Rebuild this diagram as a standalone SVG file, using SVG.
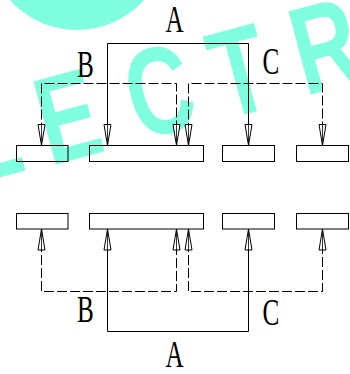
<svg xmlns="http://www.w3.org/2000/svg" width="350" height="374" viewBox="0 0 350 374">
<style>
.wm{font-family:"Liberation Sans",Arial,sans-serif;font-size:125px;font-weight:bold;fill:#80FFE0}
.box{fill:none;stroke:#000;stroke-width:1}
.solid{fill:none;stroke:#000;stroke-width:1}
.dash{fill:none;stroke:#000;stroke-width:1;stroke-dasharray:10 3}
.lbl{font-family:"Liberation Serif","Times New Roman",serif;font-size:37px;fill:#000;text-anchor:middle}
.ah{fill:url(#g);stroke:#000;stroke-width:1}
</style>
<defs>
<linearGradient id="g" x1="0" y1="0" x2="1" y2="0">
<stop offset="0" stop-color="#fff"/>
<stop offset="0.4" stop-color="#fff"/>
<stop offset="0.5" stop-color="#333"/>
<stop offset="0.6" stop-color="#fff"/>
<stop offset="1" stop-color="#fff"/>
</linearGradient>
<polygon id="ahd" points="-3.5,-21 3.5,-21 0,0"/>
</defs>
<g id="watermark">
<circle cx="77" cy="-60" r="90" fill="#80FFE0"/>
<text class="wm" transform="translate(-25,184) rotate(-15) scale(0.72,1)">L</text>
<text class="wm" transform="translate(50,166) rotate(-15) scale(0.72,1)">E</text>
<text class="wm" transform="translate(139,141) rotate(-15) scale(0.72,1)">C</text>
<text class="wm" transform="translate(224,120) rotate(-15) scale(0.72,1)">T</text>
<text class="wm" transform="translate(305,96) rotate(-15) scale(0.72,1)">R</text>
</g>
<g id="connectors">
<polyline class="solid" points="107.5,145.5 107.5,43.5 248.5,43.5 248.5,145.5"/>
<polyline class="dash" points="41.5,145.5 41.5,83.5 176.5,83.5 176.5,145.5"/>
<polyline class="dash" points="188.5,145.5 188.5,83.5 322.5,83.5 322.5,145.5"/>
<polyline class="solid" points="107.5,229 107.5,331.5 248.5,331.5 248.5,229"/>
<polyline class="dash" points="41.5,229 41.5,291.5 176.5,291.5 176.5,229"/>
<polyline class="dash" points="188.5,229 188.5,291.5 322.5,291.5 322.5,229"/>
<g id="arrows-top">
<use href="#ahd" class="ah" x="41.5" y="145.5"/>
<use href="#ahd" class="ah" x="107.5" y="145.5"/>
<use href="#ahd" class="ah" x="176.5" y="145.5"/>
<use href="#ahd" class="ah" x="188.5" y="145.5"/>
<use href="#ahd" class="ah" x="248.5" y="145.5"/>
<use href="#ahd" class="ah" x="322.5" y="145.5"/>
</g>
<g id="arrows-bottom">
<use href="#ahd" class="ah" transform="translate(41.5,229) scale(1,-1)"/>
<use href="#ahd" class="ah" transform="translate(107.5,229) scale(1,-1)"/>
<use href="#ahd" class="ah" transform="translate(176.5,229) scale(1,-1)"/>
<use href="#ahd" class="ah" transform="translate(188.5,229) scale(1,-1)"/>
<use href="#ahd" class="ah" transform="translate(248.5,229) scale(1,-1)"/>
<use href="#ahd" class="ah" transform="translate(322.5,229) scale(1,-1)"/>
</g>
</g>
<g id="top-box-1"><rect class="box" x="16.5" y="145.5" width="51.5" height="16"/></g>
<g id="top-box-2"><rect class="box" x="89.5" y="145.5" width="114" height="16"/></g>
<g id="top-box-3"><rect class="box" x="222.5" y="145.5" width="52" height="16"/></g>
<g id="top-box-4"><rect class="box" x="296.5" y="145.5" width="52" height="16"/></g>
<g id="bottom-box-1"><rect class="box" x="16.5" y="213.5" width="51.5" height="15.5"/></g>
<g id="bottom-box-2"><rect class="box" x="89.5" y="213.5" width="114" height="15.5"/></g>
<g id="bottom-box-3"><rect class="box" x="222.5" y="213.5" width="52" height="15.5"/></g>
<g id="bottom-box-4"><rect class="box" x="296.5" y="213.5" width="52" height="15.5"/></g>
<g id="labels">
<text class="lbl" transform="translate(174.5,32) scale(0.68,1)">A</text>
<text class="lbl" transform="translate(85.5,77) scale(0.68,1)">B</text>
<text class="lbl" transform="translate(271,74) scale(0.68,1)">C</text>
<text class="lbl" transform="translate(174.5,367) scale(0.68,1)">A</text>
<text class="lbl" transform="translate(85.5,322) scale(0.68,1)">B</text>
<text class="lbl" transform="translate(271,325) scale(0.68,1)">C</text>
</g>
</svg>
